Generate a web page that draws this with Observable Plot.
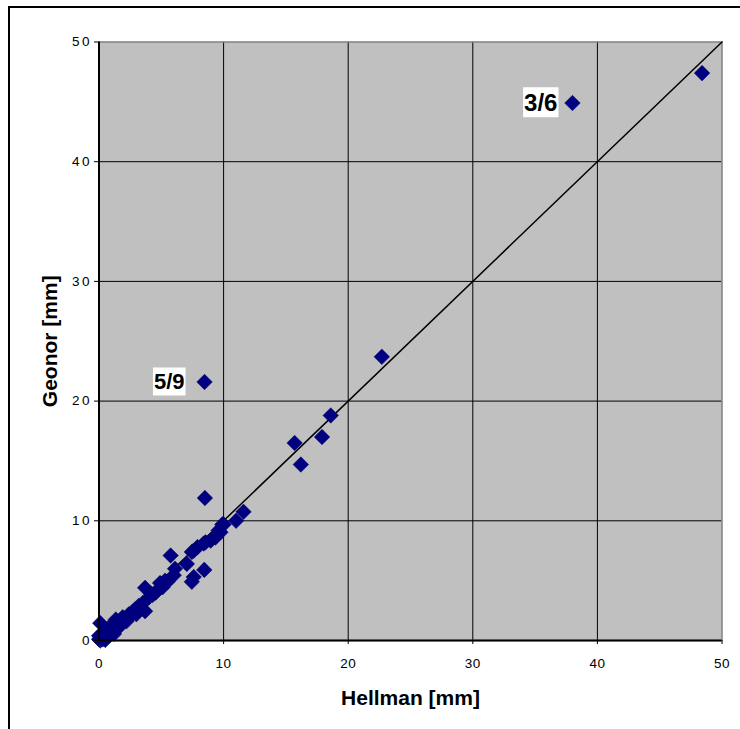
<!DOCTYPE html>
<html>
<head>
<meta charset="utf-8">
<script src="https://cdn.jsdelivr.net/npm/d3@7"></script>
<script src="https://cdn.jsdelivr.net/npm/@observablehq/plot@0.6"></script>
<style>
  html, body { margin: 0; padding: 0; background: white; }
  svg { display: block; }
</style>
</head>
<body>
<script>
// Hellman [mm] (x) vs Geonor [mm] (y)
const hellman = [48.4, 38.0, 8.47, 22.7, 18.6, 15.7, 17.9, 16.2, 8.5, 11.6, 11.0, 10.0, 9.75, 9.35, 9.0, 8.55, 7.9, 7.45,
  5.75, 7.05, 8.45, 7.6, 7.45, 6.1, 6.0, 5.5, 5.1, 4.9, 4.55, 3.7, 4.0, 3.5, 3.7, 2.9, 2.5, 3.2, 1.9, 1.35, 1.6, 0.95,
  0.1, 0.3, 0.0, 0.5, 1.2, 0.2, 0.4, 0.7, 0.1, 0.8, 2.2, 5.3, 4.3, 9.9, 9.6, 8.95, 8.4, 7.6, 0.6, 1.0,
  0.2, 0.5, 0.8, 1.1, 1.5, 1.8, 2.4, 2.7, 3.0, 3.4, 4.2, 4.7, 0.0, 0.3, 1.3, 2.0];
const geonor = [47.4, 44.9, 21.6, 23.7, 18.8, 16.5, 17.0, 14.7, 11.9, 10.75, 10.0, 9.7, 9.05, 8.6, 8.4, 8.2, 7.8, 7.4,
  7.1, 6.4, 5.9, 5.3, 4.9, 6.0, 5.45, 4.9, 4.45, 4.8, 4.0, 4.4, 3.6, 3.1, 2.45, 2.6, 2.0, 2.9, 1.95, 1.75, 1.1, 1.25,
  1.45, 0.6, 0.1, 0.05, 0.55, 0.2, 0.3, 0.8, 0.0, 0.4, 1.6, 5.0, 3.8, 9.7, 9.2, 8.35, 8.1, 7.5, 0.5, 0.9,
  0.5, 0.3, 1.0, 0.9, 1.4, 1.5, 2.2, 2.4, 2.2, 2.7, 3.9, 4.2, 0.4, 0.1, 1.2, 1.7];

const labelText = ["3/6", "5/9"];
const labelIndex = [1, 2];

const xTicks = [0, 10, 20, 30, 40, 50];
const yTicks = [0, 10, 20, 30, 40, 50];
const innerGrid = [10, 20, 30, 40];
const oneToOne = [0, 50];

const xTitle = "Hellman [mm]";
const yTitle = "Geonor [mm]";

const points = hellman.map((h, i) => ({x: h, y: geonor[i]}));
const labels3 = [{x: hellman[labelIndex[0]], y: geonor[labelIndex[0]], t: labelText[0]}];
const labels5 = [{x: hellman[labelIndex[1]], y: geonor[labelIndex[1]], t: labelText[1]}];

const chart = Plot.plot({
  width: 740,
  height: 729,
  marginLeft: 98.5,
  marginRight: 18.5,
  marginTop: 41.5,
  marginBottom: 89,
  style: {fontFamily: "'Liberation Sans', Arial, sans-serif", fontSize: "13px", background: "white", color: "black"},
  x: {domain: [0, 50]},
  y: {domain: [0, 50]},
  marks: [
    Plot.frame({fill: "#C0C0C0"}),
    Plot.ruleX(innerGrid, {stroke: "black", strokeWidth: 1}),
    Plot.ruleY(innerGrid, {stroke: "black", strokeWidth: 1}),
    Plot.frame({stroke: "#808080", strokeWidth: 1.5}),
    Plot.line(oneToOne, {x: d => d, y: d => d, stroke: "black", strokeWidth: 1.5}),
    Plot.dot(points, {x: "x", y: "y", symbol: "diamond2", r: 7, fill: "#000080", stroke: "#00006a", strokeWidth: 0.5}),
    Plot.ruleX([0], {stroke: "black", strokeWidth: 2}),
    Plot.ruleY([0], {stroke: "black", strokeWidth: 2}),
    Plot.axisX({ticks: xTicks, tickSize: 4, tickPadding: 14, tickFormat: d => String(d), label: null, stroke: "black", fontSize: 13.5}),
    Plot.axisY({ticks: yTicks, tickSize: 4.5, tickPadding: 2.5, tickFormat: d => String(d), label: null, stroke: "black", fontSize: 13.5}),
    Plot.text([xTitle], {frameAnchor: "bottom", textAnchor: "middle", dy: 57.5, lineAnchor: "middle", fontSize: 21, fontWeight: "bold", fill: "black"}),
    Plot.text([yTitle], {frameAnchor: "left", textAnchor: "middle", dx: -48.5, rotate: -90, lineAnchor: "middle", fontSize: 21, fontWeight: "bold", fill: "black"}),
    Plot.text(labels3, {x: "x", y: "y", text: "t", textAnchor: "end", dx: -15, lineAnchor: "middle", fontSize: 24, fontWeight: "bold", fill: "black"}),
    Plot.text(labels5, {x: "x", y: "y", text: "t", textAnchor: "end", dx: -20, lineAnchor: "middle", fontSize: 22, fontWeight: "bold", fill: "black"})
  ]
});

document.body.append(chart);

// tick labels in the reference are set a little wider
d3.select(chart).selectAll('g[aria-label="y-axis tick label"] text').style("letter-spacing", "2.5px");
d3.select(chart).selectAll('g[aria-label="x-axis tick label"] text').style("letter-spacing", "0.5px");

// white boxes behind the point labels
d3.select(chart).selectAll("text").filter(function() { return labelText.includes(this.textContent); })
  .each(function() {
    const bb = this.getBBox();
    const parent = this.parentNode;
    const rect = document.createElementNS("http://www.w3.org/2000/svg", "rect");
    rect.setAttribute("x", bb.x - 1);
    rect.setAttribute("y", bb.y - 1.5);
    rect.setAttribute("width", bb.width + 2);
    rect.setAttribute("height", bb.height + 3);
    rect.setAttribute("fill", "white");
    const tr = this.getAttribute("transform");
    if (tr) rect.setAttribute("transform", tr);
    parent.insertBefore(rect, this);
  });

// outer chart border (left and top visible; it continues past the picture)
d3.select(chart).append("rect")
  .attr("x", 9).attr("y", 7).attr("width", 900).attr("height", 900)
  .attr("fill", "none").attr("stroke", "black").attr("stroke-width", 2);
</script>
</body>
</html>
